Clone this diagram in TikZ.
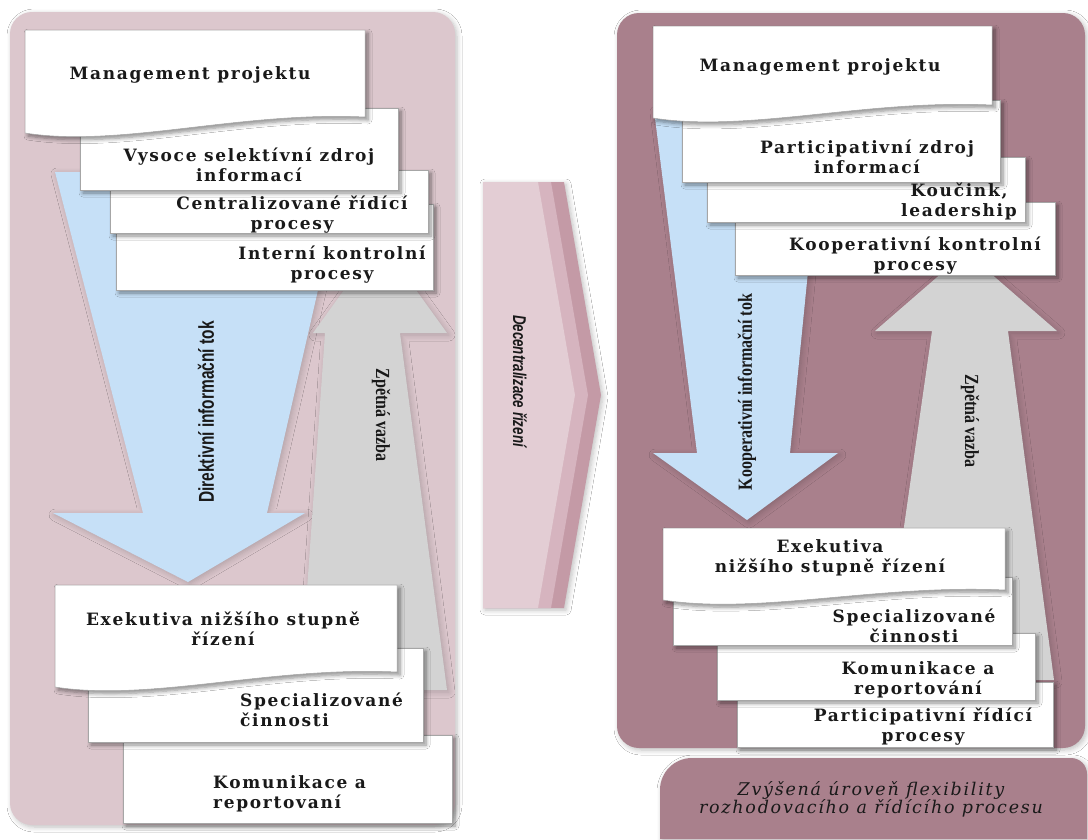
\documentclass[tikz,border=0pt]{standalone}
\usepackage{fontspec}
\setmainfont{DejaVu Serif}
\newfontfamily\cardfont[LetterSpace=10]{DejaVu Serif}
\newfontfamily\vsans[FakeStretch=0.72]{Liberation Sans}
\newfontfamily\vserif[FakeStretch=0.8]{Liberation Serif}
\newfontfamily\decofont[FakeStretch=0.72]{Liberation Sans}
\newfontfamily\labelfont[LetterSpace=10]{DejaVu Serif}
\usetikzlibrary{shadows,shadows.blur}

\definecolor{panelL}{RGB}{220,199,205}
\definecolor{panelR}{RGB}{169,128,140}
\definecolor{arrowblue}{RGB}{198,224,247}
\definecolor{arrowgray}{RGB}{211,211,211}
\definecolor{chevA}{RGB}{227,205,212}
\definecolor{chevB}{RGB}{214,180,191}
\definecolor{chevC}{RGB}{196,154,166}

\newcommand{\cardrect}[4]{\path[card] (#1,#2) rectangle (#3,#4);}
% doc shape: L T R BL BR
\newcommand{\docshape}[5]{%
  \path[card] (#1,#2) -- (#3,#2) -- (#3,#5)
    .. controls ({#1+0.63*(#3-#1)},{#5-6}) and ({#1+0.28*(#3-#1)},{#4+15}) .. (#1,#4) -- cycle;}

\begin{document}
\begin{tikzpicture}[x=1pt,y=-1pt,
  card/.style={fill=white, draw=black!35, line width=0.5pt,
    blur shadow={shadow xshift=3pt, shadow yshift=-3pt, shadow blur radius=4pt, shadow blur steps=6, shadow opacity=45}},
  cardtext/.style={font=\cardfont\bfseries\fontsize{17}{20}\selectfont, align=center, inner sep=0pt, text=black!90},
  panelshadow/.style={blur shadow={shadow xshift=2pt, shadow yshift=-2pt, shadow blur radius=5pt, shadow blur steps=6, shadow opacity=25}},
  arrowshadow/.style={blur shadow={shadow xshift=2pt, shadow yshift=-2pt, shadow blur radius=6pt, shadow blur steps=6, shadow opacity=20}},
  vlabsans/.style={font=\vsans\bfseries\fontsize{21.5}{22}\selectfont, inner sep=0pt, text=black!90},
  vlabserif/.style={font=\vserif\bfseries\fontsize{20}{22}\selectfont, inner sep=0pt, text=black!90},
  declab/.style={font=\decofont\bfseries\itshape\fontsize{18.5}{20}\selectfont, inner sep=0pt, text=black!90},
  flexlab/.style={font=\labelfont\itshape\fontsize{17.5}{18}\selectfont, align=center, inner sep=0pt, text=black!90}
]
\useasboundingbox (0,0) rectangle (1088,839);
\fill[white] (0,0) rectangle (1088,839);

% ---------- panels ----------
\path[fill=panelL, rounded corners=22pt, panelshadow] (10,12) rectangle (455,825);
\path[fill=panelR, rounded corners=22pt, panelshadow] (617,13) rectangle (1085,748);

% ---------- chevron ----------
\path[fill=chevC, panelshadow] (483,182) -- (564,182) -- (601,395) -- (564,608) -- (483,608) -- cycle;
\path[fill=chevB] (483,182) -- (551,182) -- (588,395) -- (551,608) -- (483,608) -- cycle;
\path[fill=chevA] (483,182) -- (538,182) -- (575,395) -- (538,608) -- (483,608) -- cycle;
\node[declab, rotate=-90] (declab) at (520,381) {Decentralizace řízení};

% ---------- left arrows ----------
\path[fill=arrowblue, arrowshadow] (55,172) -- (345,172) -- (267,513) -- (305,513)
  -- (188,582) -- (53,513) -- (143,513) -- cycle;
\path[fill=arrowgray, arrowshadow] (380,240) -- (447,333) -- (400,333) -- (447,690)
  -- (300,690) -- (325,333) -- (313,333) -- cycle;
\node[vlabsans, rotate=90] (dirlab) at (206,412) {Direktivní informační tok};
\node[vlabserif, rotate=-90] (zpetL) at (381,415) {Zpětná vazba};

% ---------- right arrows ----------
\path[fill=arrowblue, arrowshadow] (654,110) -- (824,110) -- (790,453) -- (838,453)
  -- (747,520) -- (653,453) -- (697,453) -- cycle;
\path[fill=arrowgray, arrowshadow] (966,252) -- (1057,331) -- (1008,331) -- (1054,680)
  -- (882,680) -- (932,331) -- (875,331) -- cycle;
\node[vlabserif, rotate=90] (koopL) at (747,392) {Kooperativní informační tok};
\node[vlabserif, rotate=-90] (zpetR) at (970,421) {Zpětná vazba};

% ---------- left top stack ----------
\cardrect{116}{204}{433}{290}
\cardrect{110}{170}{428}{233}
\cardrect{80}{108}{398}{190}
\docshape{25}{30}{365}{133}{117}
\node[cardtext] (mgmtL) at (190,75) {Management projektu};
\node[cardtext] (vysoce) at (249,165) {Vysoce selektívní zdroj\\informací};
\node[cardtext] (central) at (292,215) {Centralizované řídící\\procesy};
\node[cardtext] (interni) at (332,265) {Interní kontrolní\\procesy};

% ---------- left bottom stack ----------
\cardrect{123}{735}{452}{823}
\cardrect{88}{648}{423}{742}
\docshape{55}{585}{397}{687}{672}
\node[cardtext] (exekL) at (223,629) {Exekutiva nižšího stupně\\řízení};
\node[cardtext, align=left, anchor=west] (specL) at (240,710) {Specializované\\činnosti};
\node[cardtext, align=left, anchor=west] (komL) at (213,794) {Komunikace a\\reportovaní};

% ---------- right top stack ----------
\cardrect{735}{202}{1055}{275}
\cardrect{707}{157}{1025}{222}
\cardrect{682}{100}{1000}{182}
\docshape{653}{26}{992}{118}{105}
\node[cardtext] (mgmtR) at (820,67) {Management projektu};
\node[cardtext] (partZ) at (867,157) {Participativní zdroj\\informací};
\node[cardtext] (kouc) at (959,201) {Koučink,\\leadership};
\node[cardtext] (koopK) at (915,256) {Kooperativní kontrolní\\procesy};

% ---------- right bottom stack ----------
\cardrect{737}{682}{1053}{747}
\cardrect{717}{633}{1035}{700}
\cardrect{673}{577}{1012}{645}
\docshape{663}{528}{1005}{600}{590}
\node[cardtext] (exekR) at (830,558) {Exekutiva\\nižšího stupně řízení};
\node[cardtext] (specR) at (914,626) {Specializované\\činnosti};
\node[cardtext] (komR) at (918,680) {Komunikace a\\reportování};
\node[cardtext] (partR) at (923,727) {Participativní řídící\\procesy};

% ---------- flexibility label ----------
\path[fill=panelR, panelshadow] (660,839) [rounded corners=32pt] -- (660,758)
  [rounded corners=16pt] -- (1087,758) [sharp corners] -- (1087,839) -- cycle;
\node[flexlab] (flex) at (871,799) {Zvýšená úroveň flexibility\\rozhodovacího a řídícího procesu};
\end{tikzpicture}
\end{document}
